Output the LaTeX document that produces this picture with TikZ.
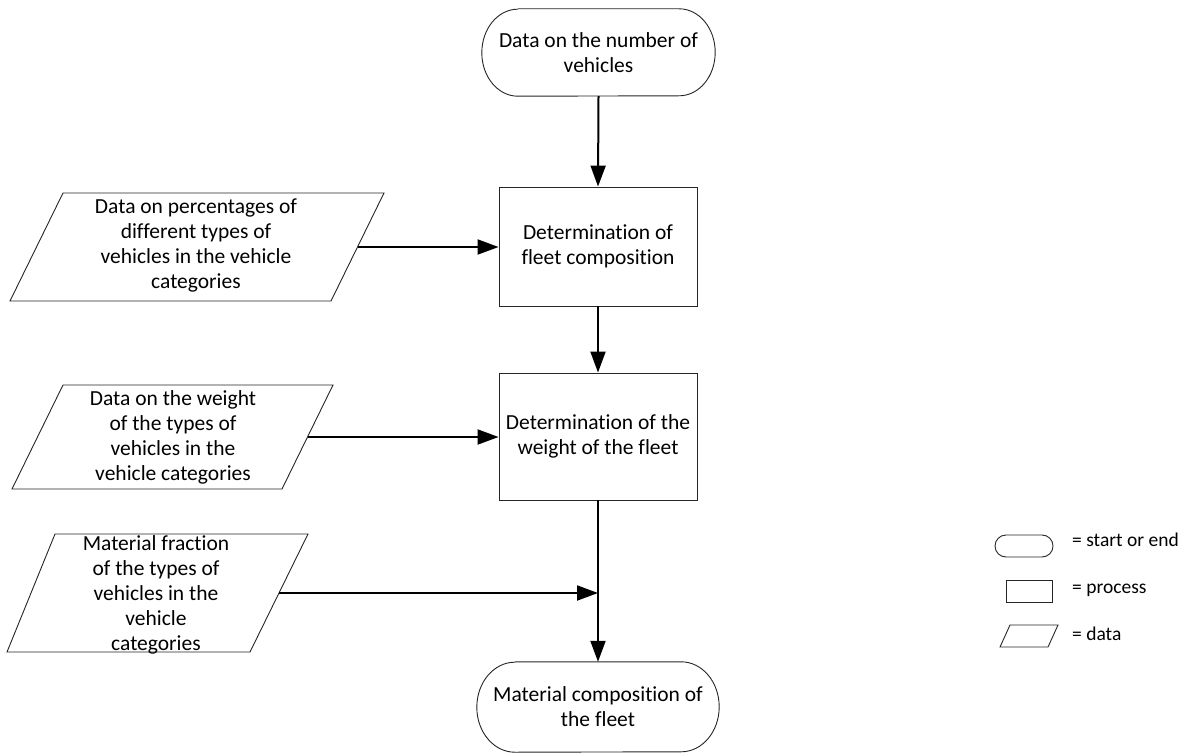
\documentclass[tikz,border=0pt]{standalone}
\usepackage{fontspec}
\setmainfont[Ligatures=CommonOff]{Carlito}
\usetikzlibrary{arrows.meta,calc}
\begin{document}
\begin{tikzpicture}[x=1pt,y=-1pt,
  outline/.style={draw=black!85,line width=0.9pt},
  txt/.style={align=center,inner sep=0pt,font=\fontsize{21.5}{25}\selectfont},
  legtxt/.style={anchor=base west,inner sep=0pt,font=\fontsize{19.5}{22}\selectfont},
  procbox/.style={outline,rectangle,minimum width=198pt,align=center,inner sep=0pt,font=\fontsize{21.5}{25}\selectfont},
  flow/.style={line width=2pt,-{Triangle[length=21pt,width=15pt]}},
  termshape/.style={inner sep=0pt,align=center,font=\fontsize{21.5}{25}\selectfont}
]
\useasboundingbox (0,0) rectangle (1182,754);
\fill[white] (0,0) rectangle (1182,754);

% start terminal
\node[termshape,minimum width=233pt,minimum height=87pt] (start) at (598.5,52.5) {Data on the number of\\vehicles};
\draw[outline] ([xshift=36pt]start.north west) -- ([xshift=-36pt]start.north east)
  arc[start angle=90,end angle=-90,x radius=36pt,y radius=43.5pt]
  -- ([xshift=36pt]start.south west)
  arc[start angle=270,end angle=90,x radius=36pt,y radius=43.5pt];

% end terminal
\node[termshape,minimum width=242pt,minimum height=90pt] (finish) at (598,707) {Material composition of\\the fleet};
\draw[outline] ([xshift=38pt]finish.north west) -- ([xshift=-38pt]finish.north east)
  arc[start angle=90,end angle=-90,x radius=38pt,y radius=45pt]
  -- ([xshift=38pt]finish.south west)
  arc[start angle=270,end angle=90,x radius=38pt,y radius=45pt];

% process boxes
\node[procbox,minimum height=119pt] (box1) at (598,246.5) {Determination of\\fleet composition};
\node[procbox,minimum height=127pt] (box2) at (598,436.5) {Determination of the\\weight of the fleet};

% data 1
\coordinate (p1a) at (63,193); \coordinate (p1b) at (384,193);
\coordinate (p1c) at (331,301); \coordinate (p1d) at (10,301);
\draw[outline] (p1a) -- (p1b) -- (p1c) -- (p1d) -- cycle;
\node[txt] (d1) at (196,245) {Data on percentages of\\different types of\\vehicles in the vehicle\\categories};
\coordinate (p1e) at (358,247);

% data 2
\coordinate (p2a) at (63,385); \coordinate (p2b) at (333,385);
\coordinate (p2c) at (282,489); \coordinate (p2d) at (12,489);
\draw[outline] (p2a) -- (p2b) -- (p2c) -- (p2d) -- cycle;
\node[txt] (d2) at (173,437) {Data on the weight\\of the types of\\vehicles in the\\vehicle categories};
\coordinate (p2e) at (307.5,437);

% data 3
\coordinate (p3a) at (55,534); \coordinate (p3b) at (308,534);
\coordinate (p3c) at (250,652); \coordinate (p3d) at (7,652);
\draw[outline] (p3a) -- (p3b) -- (p3c) -- (p3d) -- cycle;
\node[txt] (d3) at (156,595) {Material fraction\\of the types of\\vehicles in the\\vehicle\\categories};
\coordinate (p3e) at (279,593);
\coordinate (join) at (box2.south |- p3e);

% connectors
\draw[flow] (start.south) -- (box1.north);
\draw[flow] (box1.south) -- (box2.north);
\draw[flow] (box2.south) -- (finish.north);
\draw[flow] (p1e) -- (p1e -| box1.west);
\draw[flow] (p2e) -- (p2e -| box2.west);
\draw[flow] (p3e) -- (join);

% legend
\node[outline,rectangle,rounded corners=11pt,minimum width=58pt,minimum height=22pt,inner sep=0pt] (lterm) at (1024,546) {};
\node[legtxt] (lterml) at (1072,546) {= start or end};
\node[outline,rectangle,minimum width=46pt,minimum height=22pt,inner sep=0pt] (lproc) at (1029,591) {};
\node[legtxt] (lprocl) at (1072,593) {= process};
\coordinate (lda) at (1010,625); \coordinate (ldb) at (1058,625);
\coordinate (ldc) at (1048,647); \coordinate (ldd) at (1000,647);
\draw[outline] (lda) -- (ldb) -- (ldc) -- (ldd) -- cycle;
\node[legtxt] (ldatal) at (1072,640) {= data};
\end{tikzpicture}
\end{document}
